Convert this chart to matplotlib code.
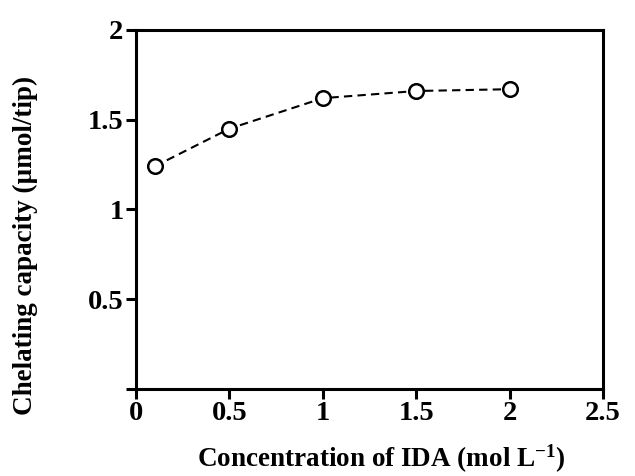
import matplotlib
matplotlib.use('Agg')
import matplotlib.pyplot as plt

# data
ida_conc = [0.1, 0.5, 1.0, 1.5, 2.0]
capacity = [1.24, 1.45, 1.62, 1.66, 1.67]
xticks = [0, 0.5, 1, 1.5, 2, 2.5]
xticklabels = ['0', '0.5', '1', '1.5', '2', '2.5']
yticks = [0, 0.5, 1, 1.5, 2]
yticklabels = ['', '0.5', '1', '1.5', '2']

plt.rcParams['font.family'] = ['Liberation Serif', 'DejaVu Serif']
plt.rcParams['font.weight'] = 'bold'
plt.rcParams['mathtext.fontset'] = 'custom'
plt.rcParams['mathtext.rm'] = 'Liberation Serif:bold'
plt.rcParams['mathtext.bf'] = 'Liberation Serif:bold'
plt.rcParams['mathtext.it'] = 'Liberation Serif:bold'

fig = plt.figure(figsize=(6.35, 4.76), dpi=100)
ax = fig.add_axes([0.2142, 0.183, 0.7354, 0.754])

ax.plot(ida_conc, capacity, linestyle=(0, (4, 2.5)), color='black', linewidth=1.5,
        marker='o', markersize=10.5, markerfacecolor='white', markeredgecolor='black',
        markeredgewidth=1.8)

ax.set_xlim(0, 2.5)
ax.set_ylim(0, 2)
ax.set_xticks(xticks)
ax.set_xticklabels(xticklabels)
ax.set_yticks(yticks)
ax.set_yticklabels(yticklabels)

for s in ax.spines.values():
    s.set_linewidth(2.2)
ax.tick_params(direction='out', length=7, width=2.2, labelsize=20.5, pad=2)

ax.set_xlabel('Concentration of IDA (mol L$^{-1}$)', fontsize=19.5, fontweight='bold')
ax.set_ylabel('Chelating capacity (\u00b5mol/tip)', fontsize=19.5, fontweight='bold')
ax.xaxis.set_label_coords(0.525, -0.150)
ax.yaxis.set_label_coords(-0.210, 0.40)

fig.savefig('out.png', dpi=100)
